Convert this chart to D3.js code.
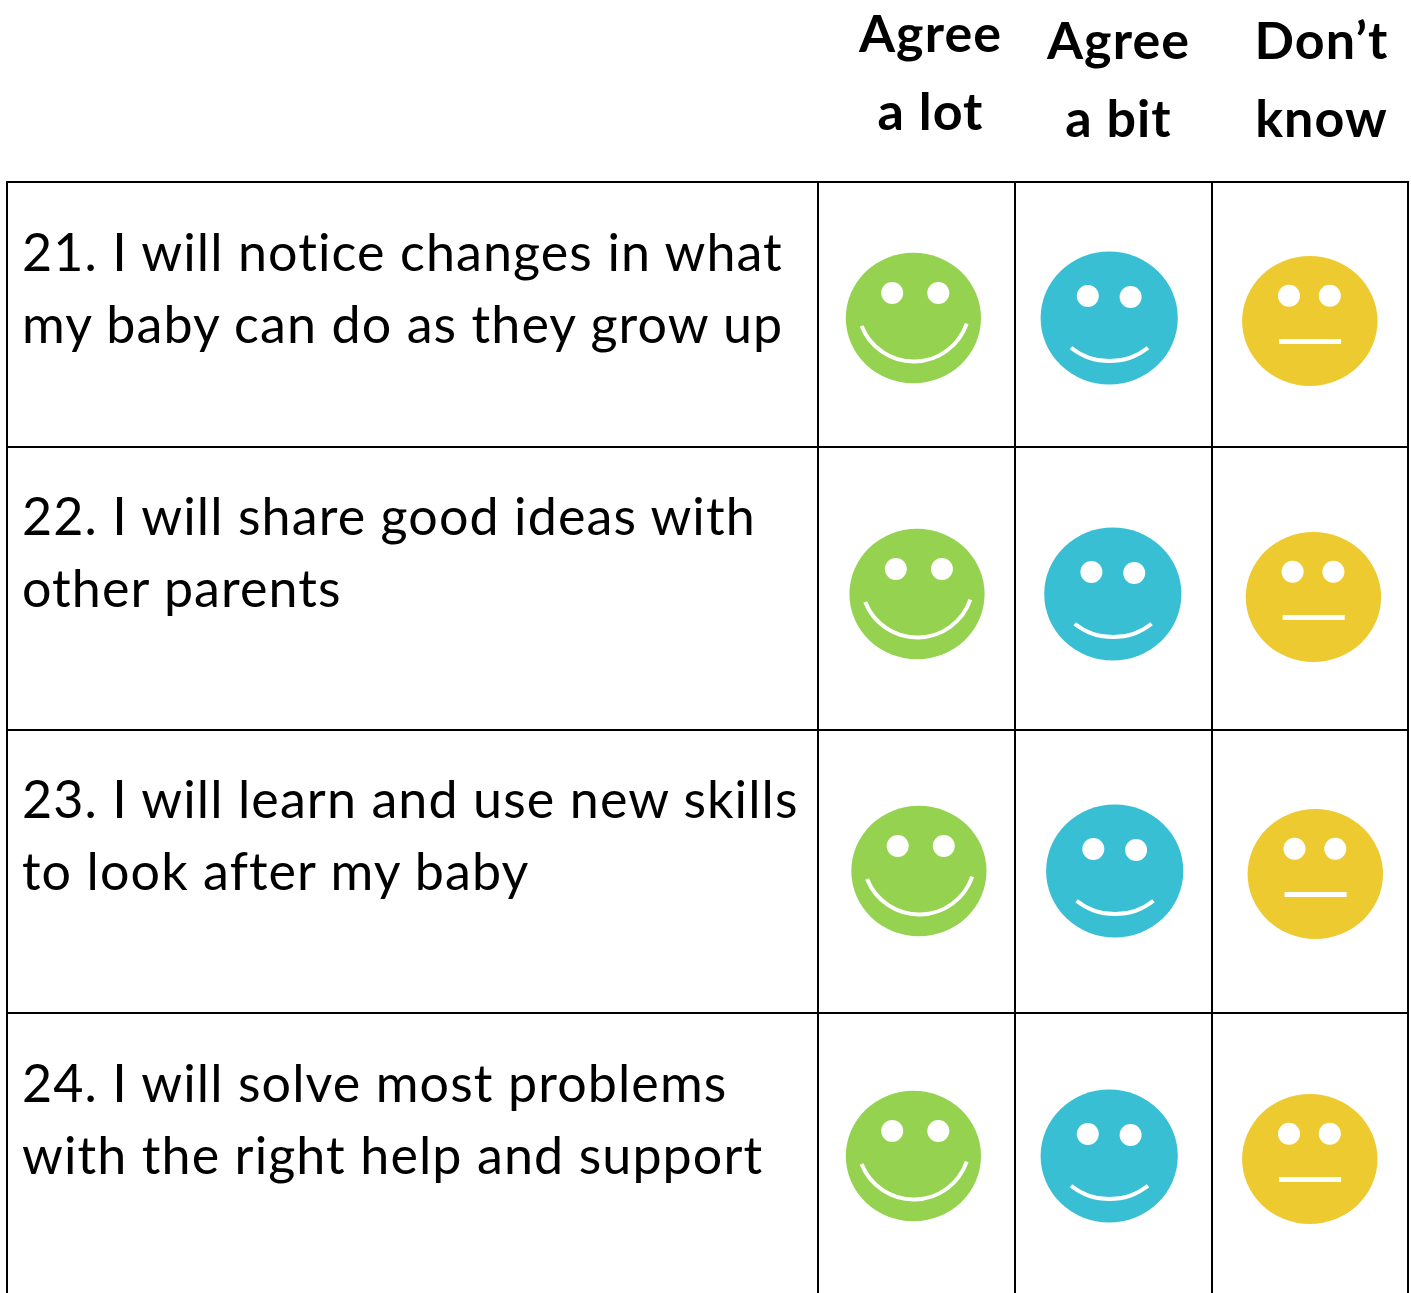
<!DOCTYPE html>
<html>
<head>
<meta charset="utf-8">
<script src="https://cdn.jsdelivr.net/npm/d3@7"></script>
<style>
  html, body { margin: 0; padding: 0; background: #fff; overflow: hidden; }
  text { font-family: Lato, "Noto Sans", sans-serif; fill: #000; font-variant-ligatures: none; letter-spacing: 1.1px; }
</style>
</head>
<body>
<script>
// contenuto della tabella
const questions = [21, 22, 23, 24];
const statements = [
  ["I will notice changes in what", "my baby can do as they grow up"],
  ["I will share good ideas with", "other parents"],
  ["I will learn and use new skills", "to look after my baby"],
  ["I will solve most problems", "with the right help and support"]
];
const answers = ["lot", "bit", "unknown"];
const answerLabels = [["Agree", "a lot"], ["Agree", "a bit"], ["Don\u2019t", "know"]];
const answerColors = ["#94d250", "#38bfd4", "#eeca31"];

const width = 1411, height = 1293;

// griglia: le righe non sono tutte uguali
const columnLines = [7, 818, 1015, 1212, 1408];
const rowLines = [182, 447, 730, 1013, height];

const rowTop = d3.scaleOrdinal().domain(questions).range(rowLines);
const rowFaceY = d3.scaleOrdinal().domain(questions).range([318, 594, 871, 1156]);
const rowShift = d3.scaleOrdinal().domain(questions).range([0, 3.6, 5.5, 0]);
const faceX = d3.scaleOrdinal().domain(answers).range([913.4, 1109.2, 1309.8]);
const headerX = d3.scaleOrdinal().domain(answers).range([930.5, 1118.5, 1321.5]);
const headerY = d3.scaleOrdinal().domain(answers).range([52, 59, 59]);

// forma di ogni faccina, relativa al centro
const faceShapes = {
  lot: { rx: 67.6, ry: 65.3, dy: 0, eyes: [[-21.2, -25], [24.9, -25]], mouth: [[-51.8, 8], [53.3, 5.7], 56, 4] },
  bit: { rx: 68.6, ry: 66.5, dy: 0, eyes: [[-21.4, -22], [21.4, -21]], mouth: [[-38.2, 29.7], [38.8, 29.7], 62, 4] },
  unknown: { rx: 67.7, ry: 65, dy: 3, eyes: [[-20.8, -25.3], [20, -25.3]], line: [-30.7, 31.3, 20.4] }
};

var svg = d3.select("body")
  .append("svg")
  .attr("width", width)
  .attr("height", height)
  .style("display", "block");

/* intestazioni delle colonne */
answers.forEach(function (a, i) {
  answerLabels[i].forEach(function (label, j) {
    svg.append("text")
      .attr("x", headerX(a))
      .attr("y", headerY(a) + j * 78)
      .attr("text-anchor", "middle")
      .attr("font-size", 52)
      .attr("font-weight", 700)
      .text(label);
  });
});

/* linee della griglia */
svg.selectAll("line.h")
  .data(rowLines.slice(0, 4))
  .join("line")
  .attr("class", "h")
  .attr("x1", columnLines[0] - 1)
  .attr("x2", columnLines[4] + 1)
  .attr("y1", d => d)
  .attr("y2", d => d)
  .attr("stroke", "#000")
  .attr("stroke-width", 2);

svg.selectAll("line.v")
  .data(columnLines)
  .join("line")
  .attr("class", "v")
  .attr("x1", d => d)
  .attr("x2", d => d)
  .attr("y1", rowLines[0])
  .attr("y2", height)
  .attr("stroke", "#000")
  .attr("stroke-width", 2);

/* testo delle domande */
questions.forEach(function (q, i) {
  statements[i].forEach(function (line, j) {
    svg.append("text")
      .attr("x", 22)
      .attr("y", rowTop(q) + (j === 0 ? 89 : 161) + (i === 1 || i === 2 ? -1 : 0))
      .attr("font-size", 52)
      .text(j === 0 ? q + ". " + line : line);
  });
});

function drawFace(q, a, color) {
  let shape = faceShapes[a];
  let cx = faceX(a) + rowShift(q);
  let cy = rowFaceY(q) + shape.dy;
  let g = svg.append("g").attr("transform", "translate(" + cx + "," + cy + ")");

  g.append("ellipse")
    .attr("rx", shape.rx)
    .attr("ry", shape.ry)
    .attr("fill", color);

  shape.eyes.forEach(function (eye) {
    g.append("ellipse")
      .attr("cx", eye[0])
      .attr("cy", eye[1])
      .attr("rx", 11)
      .attr("ry", 11)
      .attr("fill", "#fff");
  });

  if (shape.mouth) {
    let m = shape.mouth;
    g.append("path")
      .attr("d", "M " + m[0][0] + " " + m[0][1] + " A " + m[2] + " " + m[2] + " 0 0 0 " + m[1][0] + " " + m[1][1])
      .attr("fill", "none")
      .attr("stroke", "#fff")
      .attr("stroke-width", m[3]);
  } else {
    g.append("line")
      .attr("x1", shape.line[0])
      .attr("x2", shape.line[1])
      .attr("y1", shape.line[2])
      .attr("y2", shape.line[2])
      .attr("stroke", "#fff")
      .attr("stroke-width", 5);
  }
}

questions.forEach(function (q) {
  answers.forEach(function (a, i) {
    drawFace(q, a, answerColors[i]);
  });
});
</script>
</body>
</html>
